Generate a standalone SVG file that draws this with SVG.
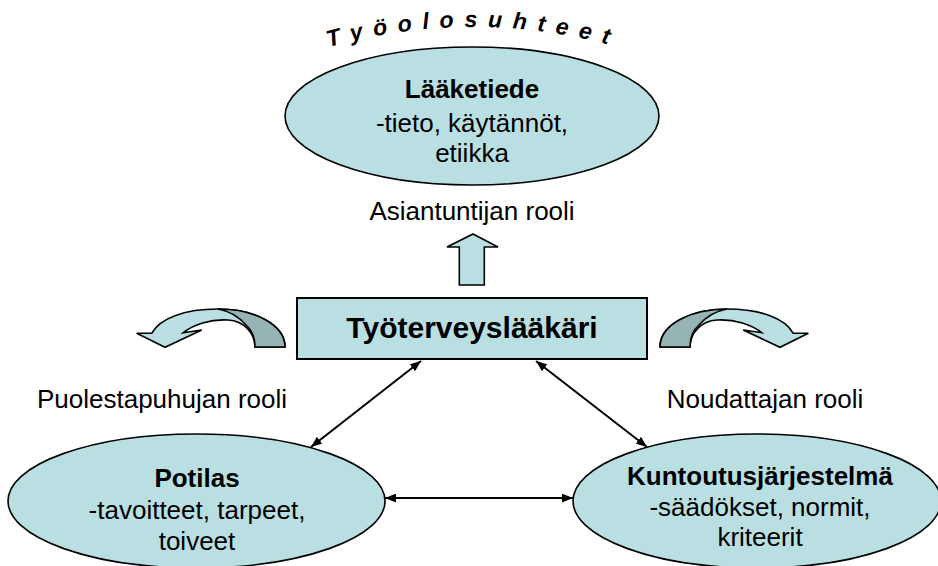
<svg xmlns="http://www.w3.org/2000/svg" width="938" height="566" viewBox="0 0 938 566">
<defs>
<style>
.node{fill:#B9DFE2;stroke:#000;stroke-width:1.6}
.dark{fill:#97B4B4;stroke:#000;stroke-width:1.6}
.t{font-family:"Liberation Sans",Arial,sans-serif;font-size:26px;fill:#000;text-anchor:middle}
.b{font-weight:bold}
.conn{stroke:#000;stroke-width:2;fill:none;marker-start:url(#ah);marker-end:url(#ah)}
.title{font-family:"Liberation Sans",Arial,sans-serif;font-size:23px;font-weight:bold;font-style:italic;letter-spacing:10.5px;fill:#000}
</style>
<marker id="ah" viewBox="0 0 10 8" refX="10" refY="4" markerWidth="11" markerHeight="9" markerUnits="userSpaceOnUse" orient="auto-start-reverse">
<path d="M0,0 L10,4 L0,8 Z" fill="#000"/>
</marker>
<path id="arc" d="M320,49.6 A530,530 0 0 1 630,50.8"/>
<g id="curved">
<path class="node" d="M151.7,333.3 C160,318 185,309 218,309 C255,309 285,325 285,347 L255,347 C255,333 244,321 228,320 C210,319 193,325 183.3,332.7 L201.7,330 L165,347.3 L136.7,333.3 Z"/>
<path class="dark" d="M218,309 C255,309 285,325 285,347 L255,347 C255,337 252,330 246,325 C239,317 229,311 218,309 Z"/>
</g>
</defs>

<text class="title"><textPath href="#arc" startOffset="9">Työolosuhteet</textPath></text>

<g id="laaketiede">
<ellipse class="node" cx="472" cy="116" rx="187" ry="69"/>
<text class="t b" x="472" y="98">Lääketiede</text>
<text class="t" x="472" y="132">-tieto, käytännöt,</text>
<text class="t" x="472" y="162">etiikka</text>
</g>

<text class="t" x="472" y="220">Asiantuntijan rooli</text>

<g id="up-arrow">
<path class="node" d="M473,234 L498,247 L484.3,247 L484.3,285 L459.3,285 L459.3,247 L447,247 Z"/>
</g>

<g id="tyoterveyslaakari">
<rect x="297" y="298" width="350" height="61" fill="#B9DFE2" stroke="#000" stroke-width="2"/>
<text class="t b" x="472" y="338" style="font-size:30px">Työterveyslääkäri</text>
</g>

<g id="left-curved-arrow"><use href="#curved"/></g>
<g id="right-curved-arrow"><use href="#curved" transform="translate(945,0) scale(-1,1)"/></g>

<text class="t" x="162" y="408">Puolestapuhujan rooli</text>
<text class="t" x="765" y="408">Noudattajan rooli</text>

<g id="potilas">
<ellipse class="node" cx="196.5" cy="501" rx="188.5" ry="67"/>
<text class="t b" x="197" y="487">Potilas</text>
<text class="t" x="197" y="519">-tavoitteet, tarpeet,</text>
<text class="t" x="197" y="550">toiveet</text>
</g>

<g id="kuntoutusjarjestelma">
<ellipse class="node" cx="757" cy="501" rx="184" ry="67"/>
<text class="t b" x="760" y="485">Kuntoutusjärjestelmä</text>
<text class="t" x="760" y="516">-säädökset, normit,</text>
<text class="t" x="760" y="546">kriteerit</text>
</g>

<g id="connectors">
<line class="conn" x1="421" y1="361" x2="311" y2="447"/>
<line class="conn" x1="536" y1="361" x2="647" y2="447"/>
<line class="conn" x1="385" y1="498" x2="573" y2="498"/>
</g>
</svg>
